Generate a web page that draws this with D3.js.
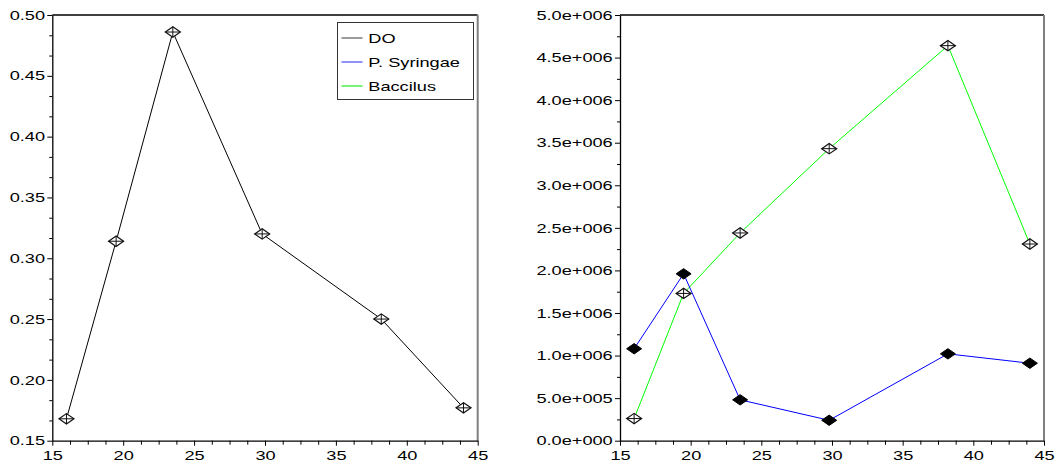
<!DOCTYPE html>
<html lang="en">
<head>
<meta charset="utf-8">
<script src="https://d3js.org/d3.v7.min.js"></script>
<title>DO / P. Syringae / Baccilus</title>
<style>
  body { margin: 0; background: #fff; }
  svg text { font-family: "Liberation Sans", Arial, sans-serif; font-size: 13px; fill: #000; }
</style>
</head>
<body>
<svg id="chart" width="1057" height="467"></svg>
<script>

// data
const temps = [16, 19.5, 23.5, 29.8, 38.2, 44];
const doValues = [0.168, 0.314, 0.486, 0.320, 0.250, 0.177];
const syringae = [1.08e6, 1.96e6, 0.48e6, 0.24e6, 1.02e6, 0.91e6];
const baccilus = [0.26e6, 1.73e6, 2.44e6, 3.43e6, 4.64e6, 2.31e6];

const seriesNames = ["DO", "P. Syringae", "Baccilus"];
const legendColors = ["#707070", "#6060ff", "#40f040"];

const xTicks = [15, 20, 25, 30, 35, 40, 45];
const xTickLabels = ["15", "20", "25", "30", "35", "40", "45"];
const leftTicks = [0.15, 0.20, 0.25, 0.30, 0.35, 0.40, 0.45, 0.50];
const leftTickLabels = ["0.15", "0.20", "0.25", "0.30", "0.35", "0.40", "0.45", "0.50"];
const rightTicks = [0, 0.5e6, 1e6, 1.5e6, 2e6, 2.5e6, 3e6, 3.5e6, 4e6, 4.5e6, 5e6];
const rightTickLabels = ["0.0e+000", "5.0e+005", "1.0e+006", "1.5e+006", "2.0e+006", "2.5e+006",
  "3.0e+006", "3.5e+006", "4.0e+006", "4.5e+006", "5.0e+006"];

// the old plotting lib draws its text wide
const SX = 1.4;

const svg = d3.select("#chart");

function stretch(sel) {
  sel.each(function() {
    const t = d3.select(this);
    const x = +t.attr("x") || 0;
    t.attr("x", x / SX).attr("transform", `scale(${SX},1)`);
  });
}

function minorsBetween(ticks, n) {
  const out = [];
  for (let i = 0; i < ticks.length - 1; i++) {
    const step = (ticks[i + 1] - ticks[i]) / (n + 1);
    for (let k = 1; k <= n; k++) out.push(ticks[i] + step * k);
  }
  return out;
}

function panel(box, yDomain, yTicks, yLabels, yMinorN) {
  const g = svg.append("g");
  const x = d3.scaleLinear().domain([15, 45]).range([box.left, box.right]);
  const y = d3.scaleLinear().domain(yDomain).range([box.bottom, box.top]);

  // frame: top black, right grey
  g.append("line")
    .attr("x1", box.left).attr("x2", box.right)
    .attr("y1", box.top).attr("y2", box.top)
    .attr("stroke", "#000").attr("stroke-width", 1.3);
  g.append("line")
    .attr("x1", box.right).attr("x2", box.right)
    .attr("y1", box.top).attr("y2", box.bottom)
    .attr("stroke", "#7f7f7f").attr("stroke-width", 2);

  // minor ticks
  g.append("g")
    .attr("transform", `translate(0,${box.bottom})`)
    .call(d3.axisBottom(x).tickValues(minorsBetween(xTicks, 3)).tickSize(4).tickSizeOuter(0).tickFormat(""))
    .call(a => a.select(".domain").remove());
  g.append("g")
    .attr("transform", `translate(${box.left},0)`)
    .call(d3.axisLeft(y).tickValues(minorsBetween(yTicks, yMinorN)).tickSize(3).tickSizeOuter(0).tickFormat(""))
    .call(a => a.select(".domain").remove());

  // major axes
  const xa = g.append("g")
    .attr("transform", `translate(0,${box.bottom})`)
    .call(d3.axisBottom(x).tickValues(xTicks).tickSize(5).tickSizeOuter(0).tickPadding(5.5)
      .tickFormat((d, i) => xTickLabels[i]));
  const ya = g.append("g")
    .attr("transform", `translate(${box.left},0)`)
    .call(d3.axisLeft(y).tickValues(yTicks).tickSize(5).tickSizeOuter(0).tickPadding(2.3)
      .tickFormat((d, i) => yLabels[i]));

  [xa, ya].forEach(a => {
    a.attr("font-family", null).attr("font-size", null);
    a.select(".domain").attr("stroke-width", 1.3);
    a.selectAll("text").call(stretch);
  });

  return { g, x, y };
}

function crossDiamond(g, pts) {
  const w = 7.5, h = 5.2;
  const m = g.selectAll(null).data(pts).join("g")
    .attr("transform", d => `translate(${d[0]},${d[1]})`);
  m.append("path")
    .attr("d", `M${-w},0L0,${-h}L${w},0L0,${h}Z`)
    .attr("fill", "#fff").attr("stroke", "#111").attr("stroke-width", 1.2);
  m.append("path")
    .attr("d", `M${-w},0H${w}M0,${-h}V${h}`)
    .attr("stroke", "#111").attr("stroke-width", 1);
}

function filledDiamond(g, pts) {
  const w = 7.5, h = 5.2;
  g.selectAll(null).data(pts).join("path")
    .attr("transform", d => `translate(${d[0]},${d[1]})`)
    .attr("d", `M${-w},0L0,${-h}L${w},0L0,${h}Z`)
    .attr("fill", "#000").attr("stroke", "#000");
}

// ---- left panel: DO
const L = panel({ left: 52.3, right: 477.7, top: 15, bottom: 440.7 },
  [0.15, 0.50], leftTicks, leftTickLabels, 2);

const doPts = temps.map((t, i) => [L.x(t), L.y(doValues[i])]);
L.g.append("path")
  .attr("d", d3.line()(doPts))
  .attr("fill", "none").attr("stroke", "#000").attr("stroke-width", 1);
crossDiamond(L.g, doPts);

// legend
const lg = L.g.append("g");
lg.append("rect")
  .attr("x", 337.5).attr("y", 22.5).attr("width", 136).attr("height", 77)
  .attr("fill", "#fff").attr("stroke", "#333").attr("stroke-width", 1);
seriesNames.forEach((name, i) => {
  const yy = 38 + i * 24;
  lg.append("line")
    .attr("x1", 341.5).attr("x2", 362.5).attr("y1", yy).attr("y2", yy)
    .attr("stroke", legendColors[i]).attr("stroke-width", 1.4);
  lg.append("text")
    .attr("x", 368.3).attr("y", yy + 5)
    .text(name)
    .call(stretch);
});

// ---- right panel: P. Syringae and Baccilus
const R = panel({ left: 620, right: 1044, top: 15, bottom: 440.7 },
  [0, 5e6], rightTicks, rightTickLabels, 1);

const sPts = temps.map((t, i) => [R.x(t), R.y(syringae[i])]);
const bPts = temps.map((t, i) => [R.x(t), R.y(baccilus[i])]);

R.g.append("path")
  .attr("d", d3.line()(bPts))
  .attr("fill", "none").attr("stroke", "#00ff00").attr("stroke-width", 1);
R.g.append("path")
  .attr("d", d3.line()(sPts))
  .attr("fill", "none").attr("stroke", "#0000ff").attr("stroke-width", 1);
filledDiamond(R.g, sPts);
crossDiamond(R.g, bPts);

</script>
</body>
</html>
